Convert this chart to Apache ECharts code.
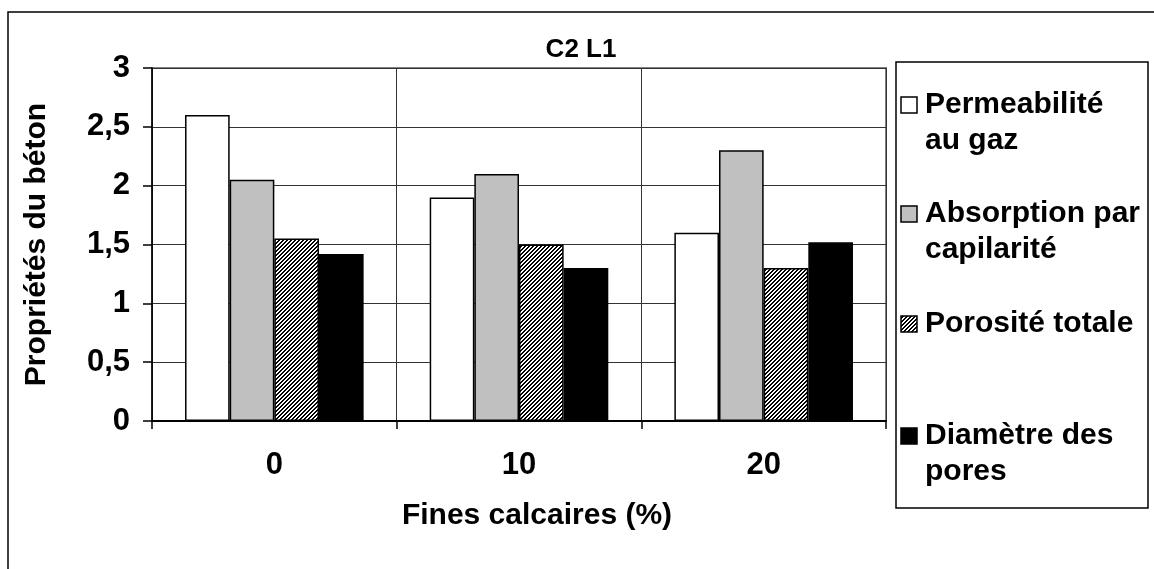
<!DOCTYPE html>
<html>
<head>
<meta charset="utf-8">
<title>C2 L1</title>
<script src="https://cdn.jsdelivr.net/npm/echarts@6/dist/echarts.min.js"></script>
<style>
  html, body { margin: 0; padding: 0; background: #fff; }
  #chart { width: 1154px; height: 569px; }
</style>
</head>
<body>
<div id="chart"></div>
<script>
// Fines calcaires content (%) on the x axis
const categories = ['0', '10', '20'];

// Measured concrete properties for each fines content
const permeabilite = [2.6, 1.9, 1.6];
const absorption = [2.05, 2.1, 2.3];
const porosite = [1.55, 1.5, 1.3];
const diametre = [1.42, 1.3, 1.52];

// Legend wording, one entry per series, split over lines
const legendLabels = [
  ['Permeabilité', 'au gaz'],
  ['Absorption par', 'capilarité'],
  ['Porosité totale'],
  ['Diamètre des', 'pores']
];

// Value axis range and step
const yMin = 0;
const yMax = 3;
const yStep = 0.5;

const FONT = '"Liberation Sans", Arial, sans-serif';

// Upward diagonal hatch used for the porosity bars
function makeHatch() {
  const c = document.createElement('canvas');
  c.width = 4; c.height = 4;
  const ctx = c.getContext('2d');
  ctx.fillStyle = '#ffffff';
  ctx.fillRect(0, 0, 4, 4);
  ctx.fillStyle = '#000000';
  for (let x = 0; x < 4; x++) {
    for (let y = 0; y < 4; y++) {
      if ((x + y) % 4 >= 2) ctx.fillRect(x, y, 1, 1);
    }
  }
  return { image: c, repeat: 'repeat' };
}
const hatch = makeHatch();

const fills = ['#ffffff', '#c0c0c0', hatch, '#000000'];
const values = [permeabilite, absorption, porosite, diametre];

const series = values.map((data, i) => ({
  name: legendLabels[i].join(' '),
  type: 'bar',
  data: data,
  barGap: '0%',
  barCategoryGap: '27%',
  itemStyle: { color: fills[i], borderColor: '#000', borderWidth: 1.5 },
  emphasis: { disabled: true }
}));

// Legend drawn as a boxed list with one fixed slot per series
const legendBox = { x: 896, y: 62, w: 252, h: 446 };
const legendSlotY = [105, 214, 324, 436];
const legendLineH = 36;
const legendChildren = [{
  type: 'rect',
  shape: { x: legendBox.x, y: legendBox.y, width: legendBox.w, height: legendBox.h },
  style: { fill: '#fff', stroke: '#000', lineWidth: 1.5 }
}];
legendLabels.forEach((lines, i) => {
  const cy = legendSlotY[i];
  legendChildren.push({
    type: 'rect',
    shape: { x: 901, y: cy - 8, width: 16, height: 16 },
    style: { fill: fills[i], stroke: '#000', lineWidth: 1.5 }
  });
  lines.forEach((t, j) => {
    legendChildren.push({
      type: 'text',
      x: 925,
      y: cy + j * legendLineH,
      style: {
        text: t, fill: '#000', font: 'bold 30px ' + FONT,
        textAlign: 'left', textVerticalAlign: 'middle'
      }
    });
  });
});

const chart = echarts.init(document.getElementById('chart'), null, { renderer: 'canvas' });
chart.setOption({
  animation: false,
  backgroundColor: '#ffffff',
  title: {
    text: 'C2 L1',
    left: 576,
    textAlign: 'center',
    top: 32,
    textStyle: { fontFamily: FONT, fontWeight: 'bold', fontSize: 26, color: '#000' }
  },
  grid: {
    left: 152, right: 268, top: 68, bottom: 148,
    show: true, borderColor: '#808080', borderWidth: 2, backgroundColor: 'transparent'
  },
  xAxis: {
    type: 'category',
    data: categories,
    name: 'Fines calcaires (%)',
    nameLocation: 'middle',
    nameGap: 80,
    nameTextStyle: { fontFamily: FONT, fontWeight: 'bold', fontSize: 30, color: '#000', padding: [0, 0, 0, 36] },
    axisLine: { show: true, lineStyle: { color: '#000', width: 2 } },
    axisTick: { show: true, length: 8, lineStyle: { color: '#000', width: 1.5 } },
    axisLabel: { margin: 29, fontFamily: FONT, fontWeight: 'bold', fontSize: 31, color: '#000' },
    splitLine: { show: true, lineStyle: { color: '#333', width: 1 } }
  },
  yAxis: {
    type: 'value',
    min: yMin, max: yMax, interval: yStep,
    name: 'Propriétés du béton',
    nameLocation: 'middle',
    nameGap: 100,
    nameTextStyle: { fontFamily: FONT, fontWeight: 'bold', fontSize: 30, color: '#000' },
    axisLine: { show: true, lineStyle: { color: '#000', width: 1.5 } },
    axisTick: { show: true, length: 9, lineStyle: { color: '#000', width: 1.5 } },
    axisLabel: {
      margin: 22, fontFamily: FONT, fontWeight: 'bold', fontSize: 31, color: '#000',
      formatter: v => String(v).replace('.', ',')
    },
    splitLine: { show: true, lineStyle: { color: '#333', width: 1 } }
  },
  series: series,
  graphic: [
    {
      type: 'rect', z: -10, silent: true,
      shape: { x: 8, y: 12, width: 1300, height: 700 },
      style: { fill: 'none', stroke: '#000', lineWidth: 1.5 }
    },
    { type: 'group', children: legendChildren }
  ]
});
</script>
</body>
</html>
